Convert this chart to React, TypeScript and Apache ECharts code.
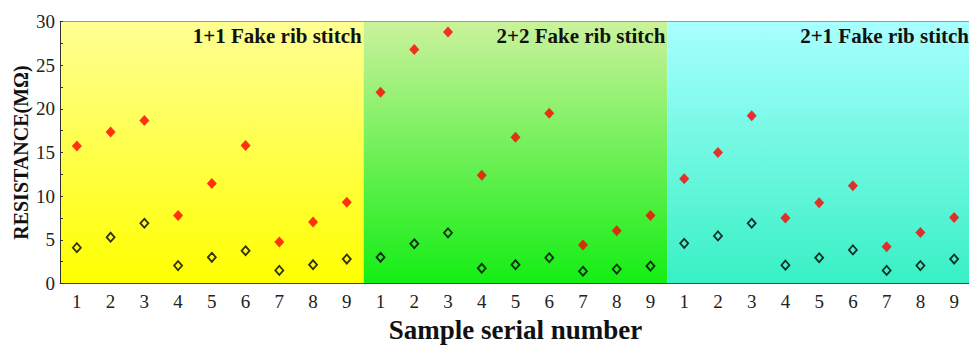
import React, { useEffect, useRef } from "react";
import * as echarts from "echarts";

const categories = ["1", "2", "3", "4", "5", "6", "7", "8", "9"];
const panelTitles = ["1+1 Fake rib stitch", "2+2 Fake rib stitch", "2+1 Fake rib stitch"];
const yTicks = { min: 0, max: 30, interval: 5 };

// red filled diamonds (upper series)
const red11 = [15.75, 17.35, 18.65, 7.8, 11.45, 15.8, 4.75, 7.05, 9.3];
const red22 = [21.9, 26.8, 28.8, 12.4, 16.75, 19.5, 4.4, 6.05, 7.8];
const red21 = [12.0, 15.0, 19.2, 7.5, 9.25, 11.2, 4.2, 5.85, 7.55];
// hollow black diamonds (lower series)
const blk11 = [4.1, 5.3, 6.9, 2.05, 3.0, 3.75, 1.5, 2.15, 2.8];
const blk22 = [3.0, 4.55, 5.8, 1.75, 2.15, 2.95, 1.4, 1.65, 2.0];
const blk21 = [4.6, 5.45, 6.9, 2.1, 2.95, 3.85, 1.5, 2.05, 2.8];

const reds = [red11, red22, red21];
const blacks = [blk11, blk22, blk21];

const gradients = [
  ["#ffff94", "#ffff00"],
  ["#cbf29c", "#14ee14"],
  ["#a8ffff", "#38f0c4"],
];

const FONT = "Liberation Serif";

export default function App() {
  const ref = useRef<HTMLDivElement>(null);
  useEffect(() => {
    if (!ref.current) return;
    const chart = echarts.init(ref.current, null, { renderer: "svg" });
    const left0 = 60;
    const totalW = 911;
    const pw = totalW / 3;
    const top = 21.5;
    const height = 262;

    const grids = [0, 1, 2].map((i) => ({
      left: left0 + pw * i,
      top,
      width: pw,
      height,
      show: true,
      borderWidth: 0,
      containLabel: false,
      outerBoundsMode: "none",
      backgroundColor: new echarts.graphic.LinearGradient(0, 0, 0, 1, [
        { offset: 0, color: gradients[i][0] },
        { offset: 1, color: gradients[i][1] },
      ]),
    }));

    const xAxes: any[] = [];
    [0, 1, 2].forEach((i) => {
      xAxes.push({
        type: "category",
        gridIndex: i,
        data: categories,
        boundaryGap: true,
        position: "bottom",
        axisLine: { show: true, lineStyle: { color: "#444", width: 1 } },
        axisTick: { show: false },
        axisLabel: { fontFamily: FONT, fontSize: 19, color: "#222", margin: 8 },
        name: i === 1 ? "Sample serial number" : "",
        nameLocation: "middle",
        nameGap: 33,
        nameTextStyle: { fontFamily: FONT, fontSize: 27, fontWeight: "bold", color: "#111" },
      });
      xAxes.push({
        type: "category",
        gridIndex: i,
        data: categories,
        position: "top",
        axisLine: { show: true, lineStyle: { color: "#999", width: 1 } },
        axisTick: { show: false },
        axisLabel: { show: false },
      });
    });

    const yAxes = [0, 1, 2].map((i) => ({
      type: "value",
      gridIndex: i,
      min: yTicks.min,
      max: yTicks.max,
      interval: yTicks.interval,
      show: i === 0,
      splitLine: { show: false },
      axisLine: { show: true, lineStyle: { color: "#333", width: 1 } },
      axisTick: { show: true, inside: true, length: 3, lineStyle: { color: "#333" } },
      minorTick: { show: true, splitNumber: 2, length: 3, lineStyle: { color: "#333" } },
      axisLabel: { fontFamily: FONT, fontSize: 19, color: "#222", margin: 5 },
      name: i === 0 ? "RESISTANCE(MΩ)" : "",
      nameLocation: "middle",
      nameGap: 29,
      nameTextStyle: { fontFamily: FONT, fontSize: 20, fontWeight: "bold", color: "#111" },
    }));

    const series: any[] = [];
    [0, 1, 2].forEach((i) => {
      series.push({
        type: "scatter",
        xAxisIndex: i * 2,
        yAxisIndex: i,
        data: reds[i],
        symbol: "diamond",
        symbolSize: [10, 11],
        itemStyle: { color: "#ff0000" },
      });
      series.push({
        type: "scatter",
        xAxisIndex: i * 2,
        yAxisIndex: i,
        data: blacks[i],
        symbol: "diamond",
        symbolSize: [8, 9],
        itemStyle: { color: "rgba(0,0,0,0)", borderColor: "#000", borderWidth: 1.8 },
      });
    });

    const titles = panelTitles.map((t, i) => ({
      text: t,
      right: 969 - (left0 + pw * (i + 1)) + 2,
      top: 25,
      padding: 0,
      textStyle: { fontFamily: FONT, fontSize: 21, fontWeight: "bold", color: "#111" },
    }));

    chart.setOption({
      animation: false,
      textStyle: { fontFamily: FONT },
      title: titles,
      grid: grids,
      xAxis: xAxes,
      yAxis: yAxes,
      series,
    });
    return () => chart.dispose();
  }, []);
  return (
    <div
      ref={ref}
      style={{ position: "fixed", left: 0, top: 0, width: 969, height: 346, background: "#fff" }}
    />
  );
}
